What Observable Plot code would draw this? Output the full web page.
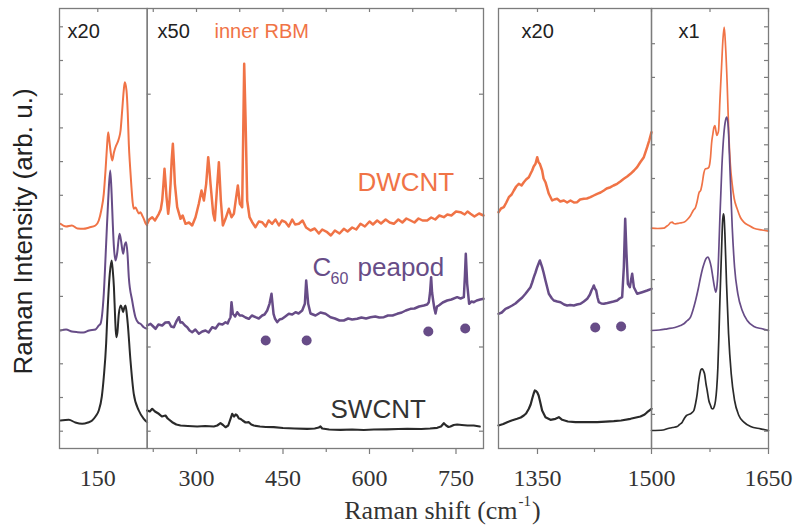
<!DOCTYPE html>
<html><head><meta charset="utf-8">
<script src="https://cdn.jsdelivr.net/npm/d3@7"></script>
<script src="https://cdn.jsdelivr.net/npm/@observablehq/plot@0.6"></script>
<style>
html,body{margin:0;padding:0;background:#fff;}
#chart{position:relative;width:796px;height:526px;overflow:hidden;background:#fff;}
#chart svg{position:absolute;left:0;top:0;}
</style></head><body><div id="chart"></div>
<script>
// ---------- DATA: [Raman shift (cm-1), intensity (arb. u., offset)] ----------
const dwcntRbmX20 = [[85.3,22.47],[95,22.2],[105,22.3],[115,22.0],[125,21.97],[135,22.1],[146,22.3],[151.7,22.8],[156,23.8],[160.4,25.47],[163.4,27.8],[166,30.2],[168,31.63],[170,30.8],[172,29.8],[175,28.8],[178,29.6],[180.7,30.13],[186.5,30.97],[189.5,31.8],[192.3,33.8],[195,35.8],[196.8,36.63],[199.8,35.8],[202,33.5],[203.8,30.47],[206,28.2],[208.4,26.13],[210.5,24.6],[212.4,23.97],[215.3,24.1],[218.3,23.8],[221,23.5],[224,23.63],[227,23.3],[229.8,22.97],[233,22.5],[235.7,22.3]];
const peapodRbmX20 = [[85.3,11.8],[95,11.9],[105,11.7],[115,11.63],[125,11.6],[135,11.8],[146,11.9],[151.7,12.3],[154.7,12.47],[160.4,15.47],[164.5,20.47],[168,24.8],[171.6,27.8],[174,25.47],[176,22.5],[178,20.13],[180.7,18.8],[183.5,19.5],[187.7,21.47],[190,20.9],[194,19.47],[196.5,20.3],[199.2,20.63],[201.5,19.5],[203.8,17.13],[209.6,14.8],[215.3,13.13],[220,12.6],[224,12.47],[229.8,12.13],[235.7,11.97]];
const swcntRbmX20 = [[85.3,2.8],[99.8,2.87],[111,2.6],[122.9,2.47],[133,2.6],[140.2,2.8],[146,3.2],[151.7,3.8],[157,5.2],[160.4,7.13],[164.5,10.5],[166.2,12.8],[170.8,17.47],[174,18.8],[176,17.8],[178,16.13],[180,13.2],[181.9,11.13],[184,11.6],[186.5,13.47],[190,14.3],[192,14.0],[194,13.63],[196,14.1],[198,14.3],[200,13.6],[202,12.47],[206.7,8.8],[212.4,5.47],[221.1,3.8],[229.8,2.97],[235.7,2.63]];

const dwcntRbmX50 = [[214.5,22.47],[218,22.9],[223.2,23.13],[228,22.8],[234.7,23.47],[238,23.9],[240.5,24.8],[242.5,26.3],[244.5,27.97],[246.3,26.6],[248,25.13],[250.9,23.47],[253,24.6],[255,26.47],[257,28.9],[259,30.47],[260.8,28.6],[262.5,26.47],[266.5,24.13],[272.3,22.97],[276,23.3],[281,22.47],[287,22.6],[292.5,22.3],[298.3,23.13],[304,24.47],[308.7,25.8],[312.8,24.8],[316.8,26.47],[320.3,29.13],[322.5,27.8],[324.3,26.47],[329,23.47],[331.8,22.8],[335.3,25.8],[338.8,28.63],[340.5,26.8],[342.2,24.8],[345.7,22.3],[350.3,22.97],[356.1,23.97],[360.7,23.13],[364.8,23.47],[368.8,25.13],[371.7,26.3],[375.2,24.47],[379.2,24.13],[381,31.47],[382.7,38.47],[385,33.13],[387.9,24.8],[392,23.13],[396.6,22.63],[402.3,22.13],[408,22.7],[413.9,22.63],[420,22.2],[425,22.8],[431.2,22.47],[437,22.9],[443,22.3],[448,22.8],[454.4,22.63],[460,22.2],[466,22.9],[471,22.4],[477.5,22.47],[484,22.8],[490,22.1],[497.7,21.8],[505,22.0],[512.2,21.5],[518,21.9],[526.6,21.63],[533,21.3],[540,21.8],[548,21.5],[555.5,21.97],[562,21.7],[570,22.1],[577,21.9],[584.4,22.47],[592,22.2],[600,22.7],[606,22.4],[613.3,22.8],[620,22.5],[628,22.9],[635,22.6],[642.2,22.47],[650,22.9],[657,22.6],[664,23.0],[671.1,22.8],[678,22.6],[685,23.0],[692,22.8],[700,22.8],[707,23.1],[714,22.9],[721,23.3],[728.9,23.13],[735,23.4],[742,23.3],[750,23.7],[757.8,23.63],[765,23.4],[770,23.7],[775.1,23.47],[782,23.2],[790,23.5],[797.7,23.3]];
const peapodRbmX50 = [[214.5,12.3],[220.3,12.47],[225,12.2],[229,11.97],[234,12.4],[240.5,12.3],[246,12.6],[252,12.63],[256,12.2],[260.7,12.13],[265,12.7],[269.4,13.13],[272,12.6],[275.2,12.63],[280,12.3],[283.9,12.13],[288,11.8],[292.5,11.63],[298,11.9],[304.1,11.47],[310,11.7],[315.6,11.8],[321,11.6],[327.2,12.13],[333,12.0],[338.8,12.47],[345,12.4],[350.3,12.63],[354,12.5],[356.1,12.8],[359,13.13],[360.7,14.63],[363,13.47],[367,13.2],[370.6,13.63],[375,13.3],[379.2,13.3],[385,13.1],[390.8,12.97],[396,13.3],[402.3,13.13],[408,13.0],[413.9,13.3],[418,13.4],[422.6,13.8],[426.6,14.47],[430.1,15.47],[433.6,13.47],[436,13.0],[439.9,12.63],[444,12.9],[448.6,12.97],[454,13.2],[460.1,13.47],[466,13.4],[471.7,13.63],[477,13.5],[483.3,13.8],[487.9,14.47],[490.2,16.8],[493.7,14.47],[497.7,13.5],[506.4,13.3],[515,13.6],[523.7,13.47],[532.4,13.13],[540,13.0],[548,12.8],[555.5,12.8],[563,13.0],[570,12.9],[578.6,12.97],[586,13.1],[594,13.0],[601.7,13.13],[610,13.2],[617,13.1],[624.9,13.13],[632,13.3],[640,13.3],[648,13.47],[656,13.6],[663,13.8],[671.1,13.97],[678,14.0],[686,14.2],[694.2,14.3],[700,14.4],[702.9,14.63],[705,15.6],[706.9,17.13],[708.5,15.6],[710.4,14.8],[712.5,14.0],[714.5,13.5],[717,14.2],[720.2,14.3],[727,14.6],[734.7,14.8],[742,14.9],[752,15.13],[758,15.0],[763.6,15.13],[765.5,17.3],[767,19.47],[769.4,16.47],[772.8,14.47],[777,14.7],[780.9,14.63],[786,14.8],[792,14.9],[797.7,14.97]];
const swcntRbmX50 = [[214.5,3.8],[219,3.7],[223.2,3.97],[228,3.7],[234.6,3.47],[240,3.2],[246.2,3.3],[250,3.0],[257.9,2.63],[265,2.4],[272.3,2.3],[285,2.25],[301.2,2.2],[315,2.25],[330,2.2],[336,2.3],[341.6,2.53],[346,2.35],[350.3,2.13],[355,2.3],[358,2.8],[361.9,3.47],[365,3.2],[368,3.4],[370.6,3.3],[373.5,3.0],[376.3,2.97],[380,2.8],[385,2.6],[390.7,2.63],[395,2.4],[399.4,2.3],[410,2.2],[420,2.15],[434,2.13],[450,2.05],[470,2.0],[492,1.97],[505,2.0],[512,2.1],[515,2.2],[518,2.0],[530,1.9],[549.7,1.87],[570,1.9],[590,1.85],[607.5,1.9],[630,1.92],[650,1.95],[665.4,1.97],[690,1.95],[705,2.0],[717.4,2.07],[724,2.2],[728.9,2.53],[733,2.3],[737,2.15],[740.4,2.2],[746,2.35],[752,2.4],[760,2.35],[770,2.3],[780.8,2.3],[791.2,2.2]];

const dwcntD = [[1298.7,23.63],[1302,24.0],[1305.7,24.13],[1309,24.6],[1312.3,25.13],[1316,25.4],[1318.9,25.8],[1322,26.2],[1325.4,26.47],[1329,26.3],[1332,26.63],[1335,26.9],[1338.6,27.13],[1341,27.5],[1343,27.8],[1345,28.2],[1347.4,28.47],[1349.6,29.13],[1351.5,28.6],[1353.1,28.47],[1356.1,27.8],[1358,27.0],[1360.5,26.63],[1364.9,25.47],[1369.3,24.8],[1372,24.9],[1375.9,24.97],[1380,24.7],[1384.7,24.8],[1389,24.6],[1393.4,24.8],[1398,24.6],[1402.2,24.63],[1406,24.9],[1411,24.97],[1415,25.0],[1419.7,25.13],[1424,25.3],[1428.5,25.47],[1433,25.6],[1437.3,25.8],[1441,26.0],[1446.1,26.13],[1450,26.3],[1454.8,26.47],[1459,26.7],[1463.6,26.97],[1468,27.2],[1472.4,27.47],[1477,27.8],[1481.1,28.13],[1485,28.6],[1489.9,29.13],[1494.3,30.13],[1497,30.8],[1500,31.63]];
const peapodD = [[1298.7,13.47],[1303,13.6],[1307.9,13.97],[1312,14.1],[1316.7,14.3],[1321,14.5],[1325.4,14.8],[1330,15.1],[1334.2,15.47],[1337.5,15.8],[1340.8,16.13],[1343,16.6],[1345.2,17.13],[1347.4,17.6],[1349.6,18.13],[1351.5,18.5],[1353.1,18.8],[1356.1,18.13],[1358,17.6],[1360.5,16.8],[1364.9,15.47],[1369,15.0],[1371.5,14.8],[1376,14.7],[1380.3,14.63],[1385,14.4],[1389,14.3],[1393,14.35],[1397.8,14.3],[1402,14.4],[1406.6,14.47],[1411,14.7],[1415.4,14.97],[1419,15.4],[1421,15.8],[1423,16.1],[1424.1,16.3],[1425.5,16.0],[1427.2,15.8],[1429,15.1],[1430.7,14.63],[1434,14.5],[1437.3,14.47],[1442,14.55],[1446.1,14.63],[1450,14.7],[1454.8,14.8],[1458,15.0],[1461.4,15.13],[1463.6,18.13],[1465.4,22.97],[1467.1,19.47],[1468.9,16.47],[1471.5,16.13],[1473.2,16.9],[1474.6,17.47],[1476.8,16.13],[1481.1,15.47],[1487.7,15.63],[1494.3,15.8],[1500,15.97]];
const swcntD = [[1298.7,2.3],[1305,2.45],[1310.1,2.63],[1316,2.8],[1323.2,2.97],[1328,3.1],[1332,3.3],[1335,3.5],[1338.6,3.97],[1341,4.4],[1343,4.97],[1345,5.5],[1346.5,5.8],[1348,5.75],[1349.6,5.63],[1351.5,5.3],[1353.1,4.8],[1356.1,3.8],[1360.5,3.13],[1367.1,2.87],[1373.7,2.97],[1378.1,3.13],[1382.5,2.87],[1390,2.7],[1400,2.63],[1415,2.63],[1428.5,2.63],[1440,2.68],[1450.4,2.73],[1460,2.8],[1472.4,2.97],[1485.5,3.2],[1491,3.4],[1494.3,3.63],[1500,3.97]];

const dwcntG = [[1500,22.03],[1508,22.0],[1515.9,22.03],[1519,22.2],[1522.3,22.4],[1524.5,22.6],[1526.6,22.63],[1528.5,22.5],[1530.8,22.47],[1536,22.55],[1541.5,22.63],[1546,22.9],[1550.1,23.3],[1553.5,23.8],[1556.5,24.13],[1558.5,24.7],[1561,25.6],[1563,25.8],[1565,26.5],[1567,27.5],[1569.3,27.97],[1571.5,28.0],[1573.6,28.13],[1575.7,29.13],[1577,30.5],[1578.7,31.47],[1580,32.1],[1581.3,32.3],[1582.5,31.8],[1583.8,31.3],[1585,31.5],[1586,31.8],[1587.7,34.8],[1589.8,38.13],[1591.5,40.8],[1593.2,42.13],[1594.9,40.3],[1597,36.5],[1599.1,31.47],[1601,28.5],[1603.4,26.47],[1606,25.0],[1609.8,23.97],[1614,23.1],[1618.4,22.63],[1625,22.3],[1631.2,22.03],[1641.9,21.85],[1650,21.73]];
const peapodG = [[1500,11.8],[1510,11.85],[1520.1,11.97],[1530,12.1],[1537.2,12.3],[1542,12.5],[1546,12.8],[1550,13.13],[1553,13.8],[1556.5,14.8],[1560,16.0],[1562.9,17.13],[1565.5,18.0],[1568,18.63],[1570,19.0],[1572.3,19.13],[1574.5,18.8],[1576.6,18.13],[1578.5,17.2],[1580,16.47],[1582.5,15.63],[1584,16.3],[1585.1,17.47],[1586.5,20.3],[1587.7,23.13],[1590.2,28.13],[1592.8,31.47],[1594.9,32.8],[1596.6,33.13],[1598.4,32.13],[1600.5,28.13],[1603.5,22.13],[1606.5,18.13],[1610.7,15.47],[1616.3,13.8],[1622.7,12.8],[1631.3,12.2],[1641.9,11.97],[1650,11.8]];
const swcntG = [[1500,1.8],[1515,1.85],[1520,1.97],[1527,2.1],[1533,2.2],[1536,2.4],[1539.4,2.63],[1542,3.0],[1544.9,3.3],[1547.5,3.4],[1550.1,3.47],[1552,3.6],[1554.3,3.8],[1556.5,4.5],[1558.6,5.47],[1560.3,6.6],[1562,7.47],[1563.5,7.9],[1565,7.97],[1566.5,7.8],[1568,7.47],[1570,6.4],[1571.4,5.8],[1573.5,4.8],[1575.7,4.3],[1577.2,4.0],[1578.7,3.97],[1580.5,4.2],[1582.1,4.8],[1583.6,6.0],[1585.1,8.13],[1586.5,11.5],[1587.7,14.8],[1589.8,19.8],[1591,22.5],[1592,23.47],[1593,23.2],[1594.1,21.47],[1596.2,16.47],[1598.8,11.47],[1602.2,7.47],[1606.5,4.8],[1612,3.3],[1618.4,2.63],[1627,2.2],[1639.8,1.97],[1650,1.8]];

// C60 mode markers
const c60ModesLow = [[420,10.8],[491,10.8],[702,11.7],[766,12.0]];
const c60ModesHigh = [[1426,12.1],[1460,12.2]];

// ticks
const xTicksRbm20 = [150];
const xTicksRbm50 = [300, 450, 600, 750];
const xMinorRbm50 = [225, 375, 525, 675];
const xTicksD = [1350];
const xMinorD = [1425];
const xTicksG = [1500, 1650];
const xMinorG = [1575];
const yTicksMain = [1.73, 5.1, 8.47, 11.84, 15.21, 18.58, 21.95, 25.32, 28.69, 32.06, 35.43, 38.8, 42.17];
const yTicksDivider = [1.73, 10.15, 18.58, 27.0, 35.43];
const yTicksHalf = [3.41, 6.78, 10.15, 13.52, 16.89, 20.26, 23.63, 27.0, 30.37, 33.74, 37.11, 40.48];
const yTicksFine = [1.73, 3.41, 5.1, 6.78, 8.47, 10.15, 11.84, 13.52, 15.21, 16.89, 18.58, 20.26, 21.95, 23.63, 25.32, 27.0, 28.69, 30.37, 32.06, 33.74, 35.43, 37.11, 38.8, 40.48, 42.17];

// ---------- STYLE ----------
const W = 796, H = 526, TOP = 8, BOTTOM = 448;
const ORANGE = "#F07346", PURPLE = "#674C87", DARK = "#2A2A2A", FRAME = "#7C7C7C", TEXT = "#222";
const SANS = "'Liberation Sans', Arial, sans-serif";
const SERIF = "'Liberation Serif', 'Times New Roman', serif";
const SMALL = 20;

function panel(p) {
  const innerW = p.right - p.left;
  const innerH = BOTTOM - TOP;
  const marks = [];
  for (const s of p.series) {
    marks.push(Plot.line(s.data, {x: d => d[0], y: d => d[1], stroke: s.color, strokeWidth: s.width,
      curve: p.curve, strokeLinejoin: "round", strokeLinecap: "round"}));
  }
  marks.push(Plot.frame({stroke: FRAME, strokeWidth: 1.3}));
  marks.push(Plot.axisX(p.labeled, {anchor: "bottom", tickSize: 6, tickPadding: 14, label: null,
    tickFormat: d => String(d), stroke: FRAME, fill: "#333", fontFamily: SERIF, fontSize: 24, strokeWidth: 1.2}));
  if (p.minor.length) marks.push(Plot.tickX(p.minor, {x: d => d, stroke: FRAME, strokeWidth: 1.2, insetTop: innerH, insetBottom: -4}));
  marks.push(Plot.tickX(p.labeled.concat(p.minor), {x: d => d, stroke: FRAME, strokeWidth: 1.2, insetTop: 0, insetBottom: innerH - 4}));
  if (p.leftTicks) marks.push(Plot.tickY(p.leftTicks, {y: d => d, stroke: FRAME, strokeWidth: 1.2, insetLeft: 0, insetRight: innerW - 4}));
  if (p.rightTicks) marks.push(Plot.tickY(p.rightTicks, {y: d => d, stroke: FRAME, strokeWidth: 1.2, insetLeft: innerW - 4, insetRight: 0}));
  if (p.extra) marks.push(...p.extra);
  return Plot.plot({
    width: W, height: H,
    marginLeft: p.left, marginRight: W - p.right, marginTop: TOP, marginBottom: H - BOTTOM,
    x: {domain: p.domain},
    y: {domain: [0, 44], axis: null},
    style: {background: "transparent", overflow: "visible", position: "absolute", left: "0px", top: "0px"},
    marks
  });
}

const lbl = (t, x, y, size, fill, family = SANS, extra = {}) =>
  Plot.text([t], {x, y, text: d => d, fontSize: size, fill, fontFamily: family, textAnchor: "start", ...extra});

// x-axis title pieces, laid out by measuring the text (panel-B coordinates)
const measure = (() => { const c = document.createElement("canvas").getContext("2d");
  return (t, size, fam) => { c.font = `${size}px ${fam}`; return c.measureText(t).width; }; })();
const B_LEFT = 146.7, B_RIGHT = 483, B_DOM = [214.5, 797.7];
const pxToB = px => B_DOM[0] + (px - B_LEFT) * (B_DOM[1] - B_DOM[0]) / (B_RIGHT - B_LEFT);
const xt1 = "Raman shift (cm", xt2 = "-1", xt3 = ")";
const xs1 = 26, xs2 = 15;
const w1 = measure(xt1, xs1, SERIF), w2 = measure(xt2, xs2, SERIF), w3 = measure(xt3, xs1, SERIF);
const xStart = 442 - (w1 + w2 + w3 + 2) / 2;

const chart = document.getElementById("chart");

chart.append(panel({
  left: 59, right: 146.7, domain: [83.6, 235.7], curve: "monotone-x",
  series: [
    {data: dwcntRbmX20, color: ORANGE, width: 2},
    {data: peapodRbmX20, color: PURPLE, width: 2},
    {data: swcntRbmX20, color: DARK, width: 2}
  ],
  labeled: xTicksRbm20, minor: [], leftTicks: yTicksMain,
  extra: [
    lbl("x20", 97.5, 41.74, SMALL, TEXT),
    Plot.text(["Raman Intensity (arb. u.)"], {x: 21.9, y: 21.7, text: d => d, rotate: -90, fontSize: 26, fill: TEXT, fontFamily: SANS, textAnchor: "middle"})
  ]
}));

chart.append(panel({
  left: B_LEFT, right: B_RIGHT, domain: B_DOM, curve: "linear",
  series: [
    {data: dwcntRbmX50, color: ORANGE, width: 2.5},
    {data: peapodRbmX50, color: PURPLE, width: 2.5},
    {data: swcntRbmX50, color: DARK, width: 2.2}
  ],
  labeled: xTicksRbm50, minor: xMinorRbm50, leftTicks: yTicksDivider, rightTicks: yTicksDivider,
  extra: [
    Plot.dot(c60ModesLow, {x: d => d[0], y: d => d[1], r: 5, fill: PURPLE, stroke: "none"}),
    lbl("x50", 232.4, 41.74, SMALL, TEXT),
    lbl("inner RBM", 331.2, 41.74, SMALL, ORANGE),
    lbl("DWCNT", 579.2, 26.6, 26, ORANGE),
    lbl("C", 501.1, 18.1, 26, PURPLE),
    lbl("60", 532.4, 17.0, 16, PURPLE),
    lbl("peapod", 579.2, 18.1, 26, PURPLE),
    lbl("SWCNT", 532.4, 3.93, 26, "#333"),
    lbl(xt1, pxToB(xStart), -6.2, xs1, "#333", SERIF),
    lbl(xt2, pxToB(xStart + w1 + 1), -5.25, xs2, "#333", SERIF),
    lbl(xt3, pxToB(xStart + w1 + w2 + 2), -6.2, xs1, "#333", SERIF)
  ]
}));

chart.append(panel({
  left: 498, right: 651, domain: [1298.7, 1500], curve: "linear",
  series: [
    {data: dwcntD, color: ORANGE, width: 2.5},
    {data: peapodD, color: PURPLE, width: 2.5},
    {data: swcntD, color: DARK, width: 2.2}
  ],
  labeled: xTicksD, minor: xMinorD,
  extra: [
    Plot.dot(c60ModesHigh, {x: d => d[0], y: d => d[1], r: 5, fill: PURPLE, stroke: "none"}),
    lbl("x20", 1329, 41.74, SMALL, TEXT)
  ]
}));

chart.append(panel({
  left: 651, right: 768, domain: [1500, 1650], curve: "monotone-x",
  series: [
    {data: dwcntG, color: ORANGE, width: 1.7},
    {data: peapodG, color: PURPLE, width: 1.7},
    {data: swcntG, color: DARK, width: 1.7}
  ],
  labeled: xTicksG, minor: xMinorG, leftTicks: yTicksHalf, rightTicks: yTicksFine,
  extra: [ lbl("x1", 1534.6, 41.74, SMALL, TEXT) ]
}));
</script></body></html>
